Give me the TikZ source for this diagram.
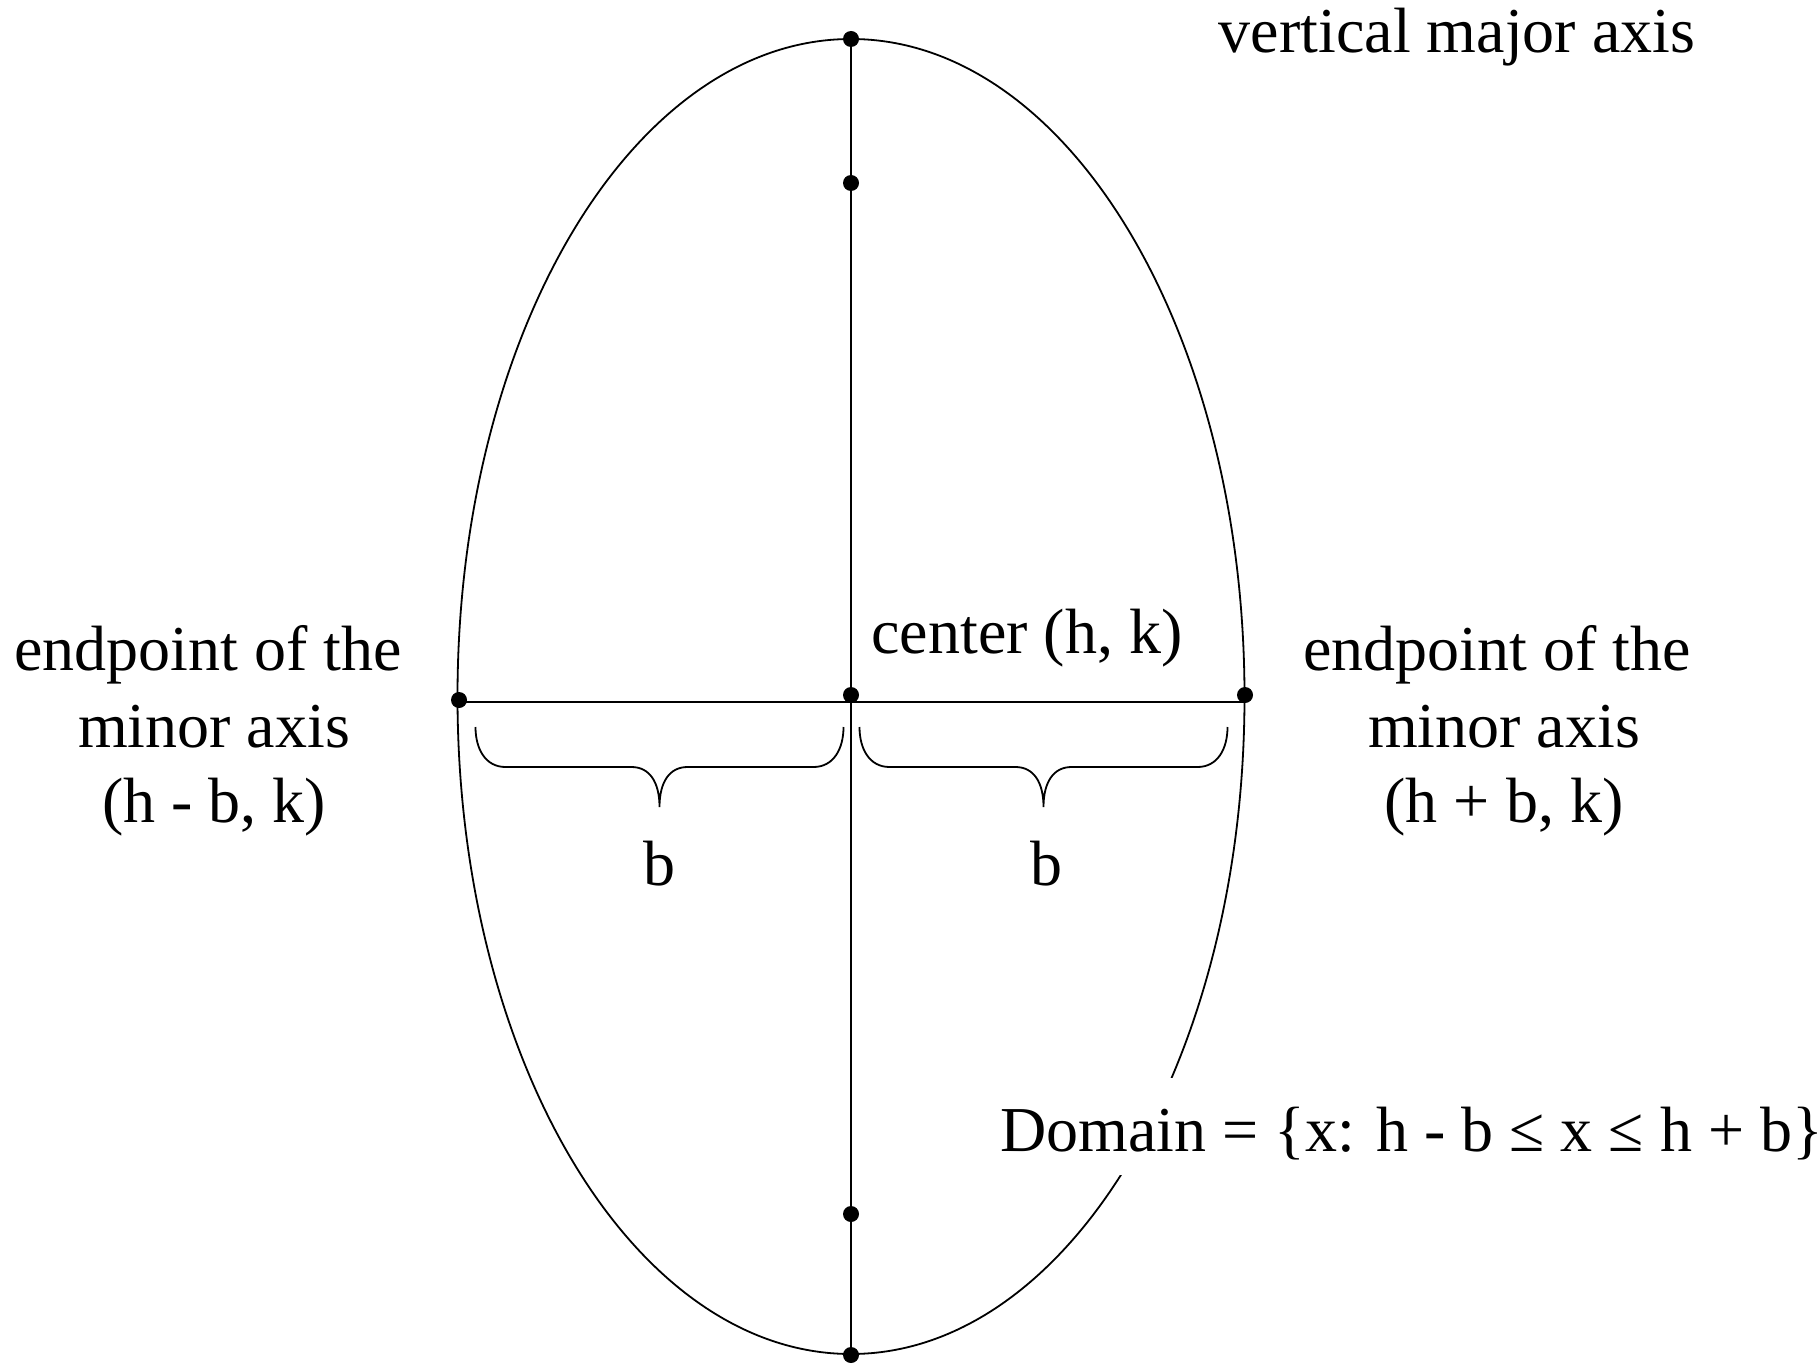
\documentclass[tikz,border=0pt]{standalone}
\usepackage{fontspec}
\setmainfont{Liberation Serif}
\begin{document}
\begin{tikzpicture}[x=0.5pt,y=-0.5pt,
  lbl/.style={font=\fontsize{32}{38}\selectfont, inner sep=0pt, anchor=base},
  dotnode/.style={circle, fill=black, inner sep=0pt, minimum size=8pt},
  axisline/.style={line width=1pt},
  curveline/.style={line width=0.9pt},
  ubrace/.pic={
    \draw[line width=0.9pt] (-184,-80) .. controls (-184,-58) and (-174,-40) .. (-154,-40)
      -- (-28,-40) .. controls (-10,-40) and (0,-25) .. (0,0)
      .. controls (0,-25) and (10,-40) .. (28,-40)
      -- (154,-40) .. controls (174,-40) and (184,-58) .. (184,-80);
  }]
\useasboundingbox (0,0) rectangle (1820,1364);
% ellipse
\draw[curveline] (851,696.5) ellipse [x radius=196.75pt, y radius=328.75pt];
% axis end coordinates
\coordinate (hl) at (458,701.5);
\coordinate (hr) at (1245,701.5);
% dots
\node[dotnode] (vtop) at (851,39) {};
\node[dotnode] (fone) at (851,183) {};
\node[dotnode] (ctr) at (851,695) {};
\node[dotnode] (ftwo) at (851,1214) {};
\node[dotnode] (vbot) at (851,1355) {};
\node[dotnode] (eleft) at (459,700) {};
\node[dotnode] (eright) at (1245,695) {};
% axes
\draw[axisline] (vtop.center) -- (vbot.center);
\draw[axisline] (hl) -- (hr);
% braces
\pic (bl) at (659.5,807) {ubrace};
\pic (br) at (1043.5,807) {ubrace};
\node[lbl] (bleft) at (659,885) {b};
\node[lbl] (bright) at (1046,885) {b};
% labels
\node[lbl] (vma) at (1457,53) {vertical major axis};
\node[lbl, anchor=base west] (cen) at (871,653) {center (h, k)};
\node[lbl] (la) at (208,670) {endpoint of the};
\node[lbl] (lb) at (214,747) {minor axis};
\node[lbl] (lc) at (214,822) {(h - b, k)};
\node[lbl] (ra) at (1497,670) {endpoint of the};
\node[lbl] (rb) at (1504,747) {minor axis};
\node[lbl] (rc) at (1504,822) {(h + b, k)};
\node[lbl, anchor=base west, fill=white, text height=36.5pt, text depth=12pt] (dom) at (1000,1151) {Domain = \{x: h - b ≤ x ≤ h + b\}};
\end{tikzpicture}
\end{document}
